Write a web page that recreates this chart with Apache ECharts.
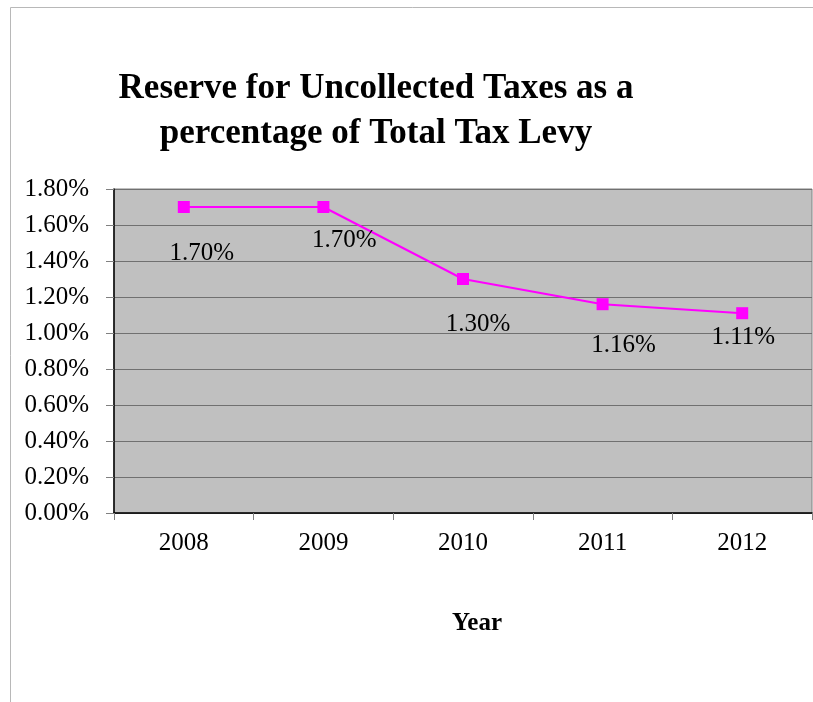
<!DOCTYPE html>
<html>
<head>
<meta charset="utf-8">
<script src="https://cdn.jsdelivr.net/npm/echarts@6/dist/echarts.min.js"></script>
<style>
  html, body { margin: 0; padding: 0; background: #fff; }
  #box { width: 813px; height: 702px; }
</style>
</head>
<body>
<div id="box"></div>
<script>
// data
var years = ['2008', '2009', '2010', '2011', '2012'];
var reserve = [1.70, 1.70, 1.30, 1.16, 1.11];
var yTicks = [0, 0.2, 0.4, 0.6, 0.8, 1.0, 1.2, 1.4, 1.6, 1.8];

// label nudges (x, y) so the percent labels sit like the original
var labelNudge = [[18, 46], [21, 33], [15, 45], [21, 41], [1, 24]];

var serif = '"Liberation Serif", "Times New Roman", serif';
var chart = echarts.init(document.getElementById('box'));

var points = reserve.map(function (v, i) {
    return {
        value: v,
        label: { offset: labelNudge[i] }
    };
});

var option = {
    backgroundColor: '#fff',
    animation: false,
    title: {
        text: 'Reserve for Uncollected Taxes as a\npercentage of Total Tax Levy',
        left: 371,
        top: 61,
        textAlign: 'center',
        textStyle: {
            fontFamily: serif,
            fontWeight: 'bold',
            fontSize: 35,
            lineHeight: 45,
            color: '#000'
        }
    },
    graphic: [
        { // outer frame
            type: 'rect',
            shape: { x: 10.5, y: 7.5, width: 900, height: 900 },
            style: { fill: 'none', stroke: '#b8b8b8', lineWidth: 1 },
            silent: true
        },
        {
            type: 'text',
            x: 477,
            y: 624,
            style: {
                text: 'Year',
                font: 'bold 25px ' + serif,
                fill: '#000',
                align: 'center',
                verticalAlign: 'middle'
            }
        }
    ],
    grid: {
        left: 114,
        right: 1,
        top: 189,
        bottom: 189,
        show: true,
        backgroundColor: '#c0c0c0',
        borderColor: '#808080',
        borderWidth: 1
    },
    xAxis: {
        type: 'category',
        data: years,
        boundaryGap: true,
        axisLine: { lineStyle: { color: '#000', width: 1.5 } },
        axisTick: { show: true, length: 7, lineStyle: { color: '#808080' } },
        axisLabel: {
            fontFamily: serif,
            fontSize: 25,
            color: '#000',
            margin: 18
        }
    },
    yAxis: {
        type: 'value',
        min: yTicks[0],
        max: yTicks[yTicks.length - 1],
        interval: 0.2,
        axisLine: { show: true, lineStyle: { color: '#000', width: 1.5 } },
        axisTick: { show: true, length: 8, lineStyle: { color: '#808080' } },
        splitLine: { lineStyle: { color: '#707070', width: 1 } },
        axisLabel: {
            fontFamily: serif,
            fontSize: 25,
            color: '#000',
            margin: 25,
            formatter: function (v) { return v.toFixed(2) + '%'; }
        }
    },
    series: [{
        type: 'line',
        data: points,
        symbol: 'rect',
        symbolSize: 12,
        color: '#ff00ff',
        lineStyle: { color: '#ff00ff', width: 2 },
        itemStyle: { color: '#ff00ff' },
        label: {
            show: true,
            position: 'inside',
            fontFamily: serif,
            fontSize: 25,
            color: '#000',
            formatter: function (p) { return p.value.toFixed(2) + '%'; }
        }
    }]
};

chart.setOption(option);
</script>
</body>
</html>
